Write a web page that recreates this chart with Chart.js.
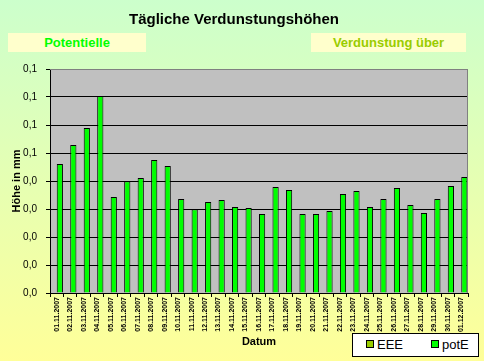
<!DOCTYPE html>
<html>
<head>
<meta charset="utf-8">
<script src="https://cdn.jsdelivr.net/npm/chart.js@4"></script>
<style>
  html, body { margin: 0; padding: 0; }
  body { width: 484px; height: 361px; position: relative; overflow: hidden;
         background: linear-gradient(to bottom, #ccffcc, #ffff99); font-family: Arial, "Liberation Sans", sans-serif; }
  #wrap { position: absolute; left: 0; top: 0; width: 484px; height: 361px; }
  .tag { position: absolute; top: 33px; height: 19px; line-height: 19px; background: #ffffcc;
         text-align: center; font-weight: bold; font-size: 13px; }
  #legend { position: absolute; left: 352px; top: 333px; width: 125px; height: 22px; background: #fff;
            border: 1px solid #000; font-size: 13px; }
  #legend span.item { position: absolute; top: 3px; line-height: 16px; }
  #legend i { display: inline-block; width: 6px; height: 6px; border: 1px solid #000; margin-right: 3px; vertical-align: 1px; }
</style>
</head>
<body>
<div id="wrap"><canvas id="chart" width="484" height="361"></canvas></div>
<div class="tag" style="left:8px;width:138px;color:#00ff00">Potentielle</div>
<div class="tag" style="left:311px;width:155px;color:#99cc00">Verdunstung über</div>
<div id="legend"></div>
<script>
const dates = ["01.11.2007","02.11.2007","03.11.2007","04.11.2007","05.11.2007","06.11.2007","07.11.2007",
  "08.11.2007","09.11.2007","10.11.2007","11.11.2007","12.11.2007","13.11.2007","14.11.2007","15.11.2007",
  "16.11.2007","17.11.2007","18.11.2007","19.11.2007","20.11.2007","21.11.2007","22.11.2007","23.11.2007",
  "24.11.2007","25.11.2007","26.11.2007","27.11.2007","28.11.2007","29.11.2007","30.11.2007","01.12.2007"];
const eeeValues = dates.map(() => null);
const potEValues = [0.0461, 0.0529, 0.0589, 0.0704, 0.0343, 0.0399, 0.0411, 0.0475, 0.0454, 0.0336,
  0.0299, 0.0325, 0.0332, 0.0307, 0.0304, 0.0282, 0.0379, 0.0368, 0.0282, 0.0282, 0.0293, 0.0354,
  0.0364, 0.0307, 0.0336, 0.0375, 0.0314, 0.0286, 0.0336, 0.0382, 0.0414];
const yTickLabels = ["0,0","0,0","0,0","0,0","0,0","0,1","0,1","0,1","0,1"];

const font = "Arial, 'Liberation Sans', sans-serif";

// grey plot background with grey frame top/right
const plotBg = {
  id: "plotBg",
  beforeDraw(chart) {
    const { ctx, chartArea: a } = chart;
    ctx.save();
    ctx.fillStyle = "#c0c0c0";
    ctx.fillRect(a.left, a.top, a.right - a.left, a.bottom - a.top);
    ctx.restore();
  },
  afterDatasetsDraw(chart) {
    const { ctx, chartArea: a } = chart;
    ctx.save();
    ctx.strokeStyle = "#808080";
    ctx.lineWidth = 1;
    ctx.beginPath();
    ctx.moveTo(a.left, a.top + 0.5);
    ctx.lineTo(a.right - 0.5, a.top + 0.5);
    ctx.lineTo(a.right - 0.5, a.bottom);
    ctx.stroke();
    ctx.restore();
  }
};

const chart = new Chart(document.getElementById("chart"), {
  type: "bar",
  data: {
    labels: dates,
    datasets: [
      { label: "EEE", data: eeeValues, backgroundColor: "#99cc00", borderColor: "#000", borderWidth: 1 },
      { label: "potE", data: potEValues, backgroundColor: "#00ff00", borderColor: "#000", borderWidth: 1 }
    ]
  },
  options: {
    responsive: false,
    animation: false,
    categoryPercentage: 0.92,
    barPercentage: 1.0,
    layout: { padding: { left: 0, right: 16, top: 0, bottom: 0 } },
    plugins: {
      legend: { display: false },
      tooltip: { enabled: false },
      title: {
        display: true, text: "Tägliche Verdunstungshöhen", color: "#000",
        font: { family: font, size: 15, weight: "bold" }, padding: { top: 11, bottom: 40 }
      }
    },
    scales: {
      x: {
        grid: { drawOnChartArea: false, tickLength: 4, color: "#000", tickColor: "#000" },
        border: { color: "#000" },
        ticks: { autoSkip: false, minRotation: 90, maxRotation: 90, padding: 0, color: "#000",
                 font: { family: font, size: 7, weight: "bold" } },
        title: { display: true, text: "Datum", color: "#000", font: { family: font, size: 11, weight: "bold" },
                 padding: { top: 0, bottom: 12 } },
        afterFit(s) { s.height = 68; }
      },
      y: {
        min: 0, max: 0.08,
        grid: { color: c => (c.tick && c.tick.value >= 0.0799 ? "#808080" : "#000"), tickLength: 4, tickColor: "#000" },
        border: { color: "#000" },
        ticks: { stepSize: 0.01, padding: 9, color: "#000", font: { family: font, size: 10 },
                 callback: (v, i) => yTickLabels[i] },
        title: { display: true, text: "Höhe in mm", color: "#000", font: { family: font, size: 11, weight: "bold" },
                 padding: { top: 10, bottom: 0 } },
        afterFit(s) { s.width = 50; }
      }
    }
  },
  plugins: [plotBg]
});

// legend box built from the datasets
const legendEl = document.getElementById("legend");
const lefts = [13, 78];
chart.data.datasets.forEach((ds, i) => {
  const item = document.createElement("span");
  item.className = "item";
  item.style.left = lefts[i] + "px";
  item.innerHTML = '<i style="background:' + ds.backgroundColor + '"></i>' + ds.label;
  legendEl.appendChild(item);
});
</script>
</body>
</html>
